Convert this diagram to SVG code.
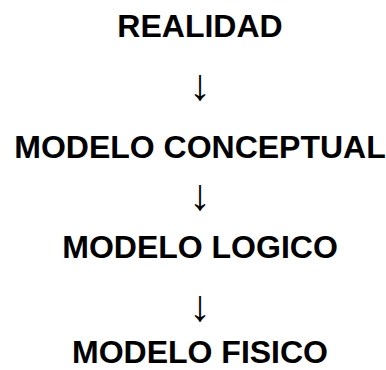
<svg xmlns="http://www.w3.org/2000/svg" width="386" height="370" viewBox="0 0 386 370">
<style>
.t{font-family:"Liberation Sans",Arial,sans-serif;font-weight:bold;font-size:32px;fill:#000;text-anchor:middle}
.a{font-family:"Liberation Sans",Arial,sans-serif;font-size:44px;fill:#000;text-anchor:middle}
</style>
<rect width="386" height="370" fill="#fff"/>
<g id="n1"><text class="t" x="200" y="37">REALIDAD</text></g>
<g id="connectors">
<text class="a" x="200" y="100">↓</text>
<text class="a" x="200" y="210">↓</text>
<text class="a" x="200" y="321">↓</text>
</g>
<g id="n2"><text class="t" x="200" y="158">MODELO CONCEPTUAL</text></g>
<g id="n3"><text class="t" x="200" y="258">MODELO LOGICO</text></g>
<g id="n4"><text class="t" x="200" y="363">MODELO FISICO</text></g>
</svg>
